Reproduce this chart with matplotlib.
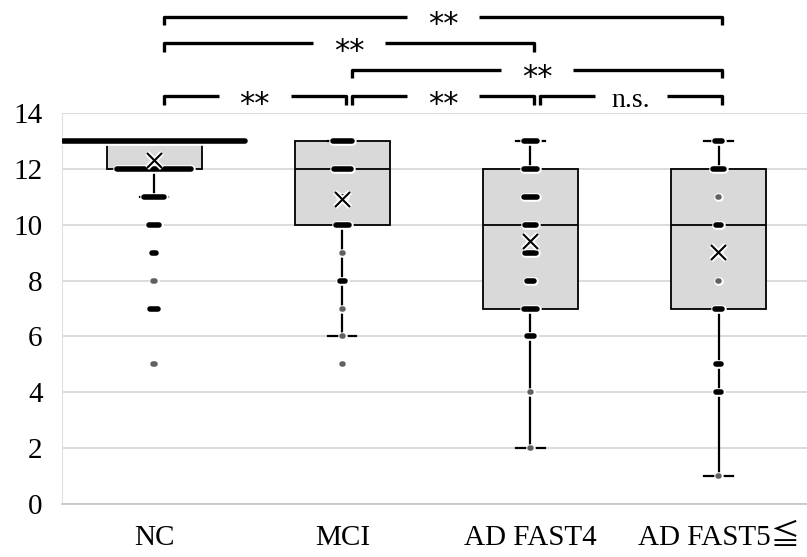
import numpy as np
import matplotlib
matplotlib.use('Agg')
import matplotlib.pyplot as plt
import matplotlib.patheffects as pe

plt.rcParams['font.family'] = ['Liberation Serif', 'DejaVu Serif', 'Noto Sans CJK JP']

groups = ['NC', 'MCI', 'AD FAST4', 'AD FAST5≦']

# box statistics per group
q1 = [12, 10, 7, 7]
median = [13, 12, 10, 10]
q3 = [13, 13, 12, 12]
whisker_low = [11, 6, 2, 1]
whisker_high = [13, 13, 13, 13]
means = [12.3, 10.9, 9.4, 9.0]

# scores and number of subjects at each score
nc_scores = [13, 12, 11, 10, 9, 8, 7, 5]
nc_counts = [61, 25, 7, 4, 2, 1, 3, 1]
mci_scores = [13, 12, 11, 10, 9, 8, 7, 6, 5]
mci_counts = [7, 6, 2, 5, 1, 2, 1, 1, 1]
fast4_scores = [13, 12, 11, 10, 9, 8, 7, 6, 4, 2]
fast4_counts = [5, 5, 5, 4, 4, 3, 5, 3, 1, 1]
fast5_scores = [13, 12, 11, 10, 9, 8, 7, 5, 4, 1]
fast5_counts = [3, 4, 1, 2, 1, 1, 3, 2, 2, 1]

# significance brackets: (group a, group b), label, row
sig_pairs = [(0, 1), (1, 2), (2, 3), (1, 3), (0, 2), (0, 3)]
sig_labels = ['**', '**', 'n.s.', '**', '**', '**']
sig_rows = [0, 0, 0, 1, 2, 3]

fig = plt.figure(figsize=(8.07, 5.57), dpi=100)
ax = fig.add_axes([62 / 807, 53 / 557, 745 / 807, 391 / 557])

stats = []
for i in range(len(groups)):
    stats.append({'q1': q1[i], 'med': median[i], 'q3': q3[i],
                  'whislo': whisker_low[i], 'whishi': whisker_high[i],
                  'fliers': []})
ax.bxp(stats, positions=range(len(groups)), widths=0.505, patch_artist=True,
       showfliers=False, capwidths=0.15,
       boxprops=dict(facecolor='#d9d9d9', edgecolor='black', linewidth=1.3),
       medianprops=dict(color='black', linewidth=1.3),
       whiskerprops=dict(color='black', linewidth=1.6),
       capprops=dict(color='black', linewidth=1.6))

# points as short capsules: longer when more subjects share a score
px_x = 188.0
dot = 4.0  # capsule thickness in points
halo = [pe.withStroke(linewidth=dot + 2.2, foreground='white')]
all_scores = [nc_scores, mci_scores, fast4_scores, fast5_scores]
all_counts = [nc_counts, mci_counts, fast4_counts, fast5_counts]
for i, (sc, cn) in enumerate(zip(all_scores, all_counts)):
    for s, n in zip(sc, cn):
        half = max(3 * n - 1.5, 0.6) / px_x / 2
        col = '#606060' if n == 1 else 'black'
        ax.plot([i - half, i + half], [s, s], color=col, linewidth=dot,
                solid_capstyle='round', zorder=4, path_effects=halo)

ax.plot(range(len(groups)), means, linestyle='none', marker='x', markersize=11,
        markeredgewidth=1.5, color='black', zorder=5,
        path_effects=[pe.withStroke(linewidth=4, foreground='white')])

ax.set_xlim(-0.49, 3.47)
ax.set_ylim(0, 14)
ax.set_yticks(np.arange(0, 15, 2))
ax.set_xticks(range(len(groups)))
ax.set_xticklabels(groups)
ax.tick_params(axis='both', length=0, labelsize=21)
ax.tick_params(axis='y', pad=14)
ax.tick_params(axis='x', pad=15)
ax.grid(axis='y', color='#d9d9d9', linewidth=1.3)
ax.set_axisbelow(True)
for side in ['top', 'right']:
    ax.spines[side].set_visible(False)
ax.spines['left'].set_color('#e0e0e0')
ax.spines['bottom'].set_color('#c8c8c8')
ax.spines['bottom'].set_linewidth(1.3)

# significance brackets above the boxes
gap = 0.19
drop = 0.3
for (a, b), lab, row in zip(sig_pairs, sig_labels, sig_rows):
    y = 14.6 + row * 0.95
    x1, x2 = a + 0.05, b + 0.02
    xm = (x1 + x2) / 2
    ax.plot([x1, x1, xm - gap], [y - drop, y, y], color='black', linewidth=2.4,
            clip_on=False, solid_capstyle='butt')
    ax.plot([xm + gap, x2, x2], [y, y, y - drop], color='black', linewidth=2.4,
            clip_on=False, solid_capstyle='butt')
    if lab == '**':
        ax.text(xm, y - 0.6, lab, ha='center', va='baseline', fontsize=22,
                family=['DejaVu Sans'])
    else:
        ax.text(xm, y - 0.4, lab, ha='center', va='baseline', fontsize=20)

fig.savefig('out.png', dpi=100)
